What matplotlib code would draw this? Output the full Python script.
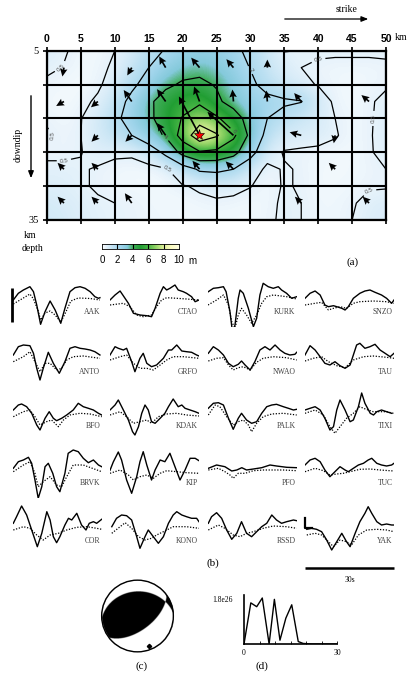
import numpy as np
import matplotlib
matplotlib.use("Agg")
import matplotlib.pyplot as plt
from matplotlib.colors import LinearSegmentedColormap

# ---------------- data ----------------
strike_km = [0, 2.5, 5, 7.5, 10, 12.5, 15, 17.5, 20, 22.5, 25, 27.5, 30, 32.5, 35, 37.5, 40, 42.5, 45, 47.5, 50]
depth_km = [5, 8, 11, 14, 17, 20, 23, 26, 29, 32, 35]
slip_m = [
    [0.7, 0.55, 0.35, 0.3, 0.5, 0.9, 1.5, 2.1, 2.6, 2.8, 2.7, 2.3, 1.7, 1.0, 0.48, 0.51, 0.6, 0.6, 0.6, 0.6, 0.6],
    [0.6, 0.48, 0.3, 0.35, 0.6, 1.2, 2.0, 2.8, 3.4, 3.6, 3.3, 2.7, 1.95, 1.2, 0.75, 0.5, 0.4, 0.35, 0.35, 0.35, 0.4],
    [0.4, 0.3, 0.25, 0.4, 0.8, 1.7, 2.6, 3.7, 4.2, 4.3, 3.9, 3.2, 2.3, 1.5, 1.0, 0.7, 0.45, 0.35, 0.3, 0.35, 0.45],
    [0.3, 0.25, 0.35, 0.6, 1.3, 2.4, 3.7, 4.7, 5.4, 5.7, 4.3, 3.4, 2.7, 2.4, 2.2, 2.05, 1.0, 0.35, 0.3, 0.45, 0.6],
    [0.45, 0.3, 0.48, 0.9, 1.6, 2.7, 3.6, 4.9, 6.1, 7.2, 6.3, 4.8, 3.3, 2.0, 1.5, 1.1, 0.8, 0.5, 0.3, 0.45, 0.65],
    [0.55, 0.4, 0.5, 0.9, 1.4, 2.0, 3.1, 4.2, 6.8, 9.2, 8.2, 6.4, 3.5, 1.5, 0.9, 0.8, 0.75, 0.55, 0.3, 0.45, 0.7],
    [0.4, 0.4, 0.48, 0.7, 0.6, 0.6, 1.0, 2.4, 4.6, 5.8, 5.6, 4.6, 2.6, 0.8, 0.45, 0.4, 0.35, 0.3, 0.3, 0.45, 0.65],
    [0.6, 0.6, 0.55, 0.45, 0.35, 0.3, 0.3, 0.4, 1.2, 2.2, 2.3, 2.0, 0.9, 0.35, 0.55, 0.45, 0.3, 0.3, 0.3, 0.4, 0.5],
    [0.7, 0.65, 0.55, 0.45, 0.35, 0.3, 0.3, 0.35, 0.45, 0.6, 0.75, 0.7, 0.52, 0.3, 0.55, 0.45, 0.3, 0.3, 0.35, 0.45, 0.45],
    [0.9, 0.8, 0.65, 0.55, 0.5, 0.45, 0.35, 0.3, 0.3, 0.35, 0.4, 0.35, 0.3, 0.35, 0.6, 0.5, 0.35, 0.35, 0.45, 0.65, 0.75],
    [1.0, 0.9, 0.7, 0.6, 0.5, 0.45, 0.4, 0.35, 0.3, 0.3, 0.3, 0.3, 0.3, 0.4, 0.6, 0.5, 0.35, 0.35, 0.5, 0.7, 0.8],
]
contour_levels = [0.5, 2, 4, 6, 8]

# slip vectors per subfault: rows = downdip (8,14,20,26,32 km), cols = along strike (2.5..47.5 km)
# arrow length (px) and direction (deg, screen, counter-clockwise from east); 0 length = no arrow
arrow_len = [
    [9, 0, 9, 13, 13, 11, 8, 0, 0, 0],
    [9, 9, 14, 15, 16, 12, 11, 11, 0, 10],
    [0, 9, 9, 15, 44, 35, 0, 12, 8, 0],
    [9, 9, 0, 0, 11, 11, 0, 0, 9, 0],
    [9, 9, 12, 0, 0, 0, 0, 9, 0, 9],
]
arrow_dir = [
    [-100, 0, -120, 120, 130, 130, 90, 0, 0, 0],
    [-150, -140, 125, 125, 110, 95, 95, 130, 0, 140],
    [0, -135, -135, 125, 118, 138, 0, 165, -100, 0],
    [135, 135, 0, 0, 130, 135, 0, 0, 135, 0],
    [135, 135, 125, 0, 0, 0, 0, 135, 0, 135],
]
hypocenter = (22.4, 20.0)

stations = [["AAK", "CTAO", "KURK", "SNZO"],
            ["ANTO", "GRFO", "NWAO", "TAU"],
            ["BFO", "KDAK", "PALK", "TIXI"],
            ["BRVK", "KIP", "PFO", "TUC"],
            ["COR", "KONO", "RSSD", "YAK"]]

observed = {
    "AAK": ([0.1, 1.8, 3.5, 5.7, 6.9, 8.0, 9.3, 10.8, 12.5, 14.2, 16.1, 17.5, 19.2, 20.9, 22.6, 24.3, 26, 27.6, 28.8, 29.3],
            [12, 18.7, 22, 25.3, 20.3, 7, -12.3, 0.3, 11, 2, -11.3, 3.7, 20.3, 24.3, 25.3, 23.7, 20.3, 15.3, 13.7, 14.3]),
    "CTAO": ([0, 1.7, 3.4, 4.7, 6.2, 7.9, 10.1, 12.4, 14, 15.2, 16.9, 18, 19.1, 20.2, 21.9, 23, 24.7, 25.8, 27.5, 28.7, 30],
             [12, 17, 21, 15.3, 8.7, -1.3, -3, -3.7, -4.7, 3.7, 18.7, 25.3, 22, 23.7, 27, 22, 20.3, 18.7, 15.3, 10.3, 12]),
    "KURK": ([0.1, 1.8, 3.5, 5.2, 6.1, 7.4, 8.3, 9.1, 10.2, 10.8, 11.9, 13.6, 15.3, 16.4, 17.5, 18.6, 20.3, 22, 23.7, 24.8, 26.5, 28.2, 29.9],
             [20.3, 23.7, 24.3, 25.3, 20.3, 0.3, -21.3, -13, 13.7, 22, 18.7, 3.7, -14.7, -6.3, 17, 28.7, 25.3, 23.7, 25.3, 22, 18.7, 13.7, 15.3]),
    "SNZO": ([0, 1.7, 3.4, 5.1, 6.7, 7.9, 9.6, 10.7, 12.4, 13.5, 14.6, 16.3, 18.5, 20.2, 21.9, 23.6, 25.8, 27.5, 29.2, 30],
             [13.7, 18.7, 21, 17, 7, 5.3, 6.3, 5.3, 3.7, 2, 5.3, 13.7, 18.7, 21, 22, 19.7, 17, 13.7, 8.7, 12]),
    "ANTO": ([0.1, 1.8, 3.5, 5.7, 6.9, 8, 9.1, 10.2, 11.9, 13.6, 15.6, 17.5, 19.2, 20.9, 22.6, 24.3, 26, 27.6, 29.3],
             [17, 25.3, 27, 26.3, 18.7, 3.7, -8, 3.7, 19.7, 8.7, -1.3, 10.3, 23.7, 25.3, 23.7, 23, 22, 20.3, 17]),
    "GRFO": ([0, 1.7, 2.8, 4.5, 5.6, 7.3, 8.4, 10.1, 11.2, 12.4, 14, 15.7, 18, 19.7, 20.8, 22.5, 24.2, 25.8, 27.5, 29.2, 30],
             [17, 25.3, 23.7, 22, 23.7, 10.3, 0.3, 13.7, 18.7, 8.7, 5.3, 7, 13.7, 22, 22, 27, 21, 20.3, 19.7, 17, 16]),
    "NWAO": ([0.1, 1.8, 3.5, 5.2, 6.9, 8.5, 10.2, 11.3, 12.5, 14.2, 15.8, 17.5, 19.2, 20.9, 22.6, 24.3, 25.9, 27.6, 29.3, 29.9],
             [18.7, 25.3, 22, 17, 8.7, 5.3, 7.7, 11, 7, 2, 10.3, 22, 25.3, 22, 27, 22, 18.7, 17, 17.7, 19.7]),
    "TAU": ([0, 1.7, 3.4, 5.1, 6.7, 8.4, 10.1, 11.8, 13.5, 15.2, 16.3, 17.4, 18.5, 20.2, 21.9, 23.6, 25.3, 27, 28.7, 30],
            [17, 26.3, 22, 15.3, 8.7, 7, 10.3, 6.3, 3.7, 7, 17, 27, 28.7, 23.7, 25.3, 27.7, 22, 18.7, 15.3, 18.7]),
    "BFO": ([0.1, 1.8, 2.9, 4.6, 6.3, 8, 9.1, 10.8, 12.2, 13.6, 14.7, 16.4, 18.1, 20.3, 22, 23.7, 25.4, 27.1, 28.8, 29.9],
            [16, 21, 22, 19.3, 12.7, 1, -4, 7.7, 14.3, 7.7, 5.3, 7.7, 11, 16, 22.7, 19.3, 17.7, 16, 12.7, 11]),
    "KDAK": ([0, 1.7, 2.8, 4.5, 6.2, 7.6, 8.4, 9.6, 10.7, 11.8, 12.9, 14, 15.2, 16.9, 18.5, 19.7, 21.3, 23, 24.2, 25.3, 27, 28.7, 30],
             [16, 21, 26, 16, 6, -5.7, -9, -0.7, 12.7, 21, 16, 4.3, 2.7, 7.7, 12.7, 19.3, 27, 19.3, 21, 17.7, 16, 14.3, 12.7]),
    "PALK": ([0.1, 1.8, 3.5, 5.2, 6.9, 8.5, 10.2, 11.3, 13, 14.7, 16.4, 18.1, 19.8, 21.5, 23.1, 25.4, 27.1, 28.8, 29.9],
             [17.7, 22.7, 23.3, 21, 7.7, -3.3, 7.7, 12.7, 6, 2.7, 4.3, 12.7, 19.3, 21, 21.7, 19.3, 17.7, 16, 16.7]),
    "TIXI": ([0, 1.7, 3.4, 5.1, 6.7, 8.4, 9.6, 10.7, 11.8, 13.5, 15.2, 16.3, 18, 19.1, 20.2, 22, 23.1, 24.2, 25.8, 27.5, 29.2],
             [16, 17.7, 19.3, 16, 7.7, -4, -0.7, 16, 26, 16, 4.3, 6, 19.3, 33, 22.7, 12.7, 11, 14.3, 16, 14.3, 12.7]),
    "BRVK": ([0.1, 1.8, 3.5, 5.2, 6.3, 7.4, 8.5, 9.7, 10.8, 11.9, 13.4, 14.7, 15.8, 17.5, 18.6, 20.3, 22, 23.7, 25.4, 27.1, 28.8, 29.9],
             [14.7, 21.3, 23, 25.7, 19.7, 3, -15.3, -3.7, 16.3, 19.7, 9.7, -3.7, -8.7, 9.7, 29.7, 33, 31.3, 24.7, 20.3, 23, 18, 16.3]),
    "KIP": ([0, 1.1, 2.8, 3.9, 5.6, 7.3, 9, 10.1, 11.2, 12.4, 14, 15.2, 16.9, 18.5, 20.2, 21.9, 23.6, 25.3, 27, 28.7, 30],
            [12.7, 21, 31, 23, 3, -10.3, 6.3, 21.3, 31.3, 18, 3, 13, 23, 21.3, 29.7, 16.3, 3, 13, 24.7, 24.7, 22.3]),
    "PFO": ([0.1, 2.9, 5.7, 8, 9.7, 11.4, 13, 15.3, 18.1, 20.9, 23.1, 26.5, 29.9],
            [14.7, 18, 16.3, 12, 13, 15.3, 13, 14, 15.3, 18, 17, 15.7, 15.3]),
    "TUC": ([0, 1.7, 3.4, 5.1, 6.7, 8.4, 10.1, 11.8, 13.5, 14.6, 16.3, 18, 19.7, 21.3, 22.5, 24.2, 25.8, 27.5, 29.2, 30],
            [18, 23, 24.7, 21.3, 13, 6.3, 11.3, 16.3, 13, 11.3, 14.7, 18, 19.7, 23, 24.7, 19.7, 18, 17, 18, 19.7]),
    "COR": ([0.1, 1.2, 2.9, 4.6, 6.3, 8.2, 9.7, 11.4, 12.5, 13.6, 14.7, 15.8, 17.5, 18.7, 19.8, 21.5, 23.1, 24.6, 25.7, 27.1, 28.2, 29.9],
            [17.7, 24.3, 35, 26, 11, -5.7, 7.7, 29.3, 21, 4.3, -1.7, 4.3, 16, 22.7, 21, 27.7, 16, 11, 17.7, 19.3, 17.7, 21.7]),
    "KONO": ([0.6, 2.2, 3.9, 5.6, 7.3, 9, 10.1, 11.8, 12.9, 14.6, 16.3, 18, 19.7, 21.3, 22.5, 24.2, 25.8, 27.5, 29.2, 30],
             [14.3, 22.7, 26, 25.3, 21, 4.3, -7.3, 4.3, 11, 4.3, -2.3, 4.3, 17.7, 26, 29.3, 26, 24.3, 22.7, 22.7, 19.3]),
    "RSSD": ([0.1, 1.2, 2.9, 4.6, 6.3, 8, 9.7, 11.3, 13, 14.7, 16.4, 18.1, 19.8, 21.5, 23.1, 24.8, 26.5, 28.8, 29.9],
             [17.7, 24.3, 28.3, 22.7, 11, 1.7, 7.7, 19.3, 7.7, 4.3, 9.3, 14.3, 17.7, 26, 21, 17.7, 19.3, 21, 20.3]),
    "YAK": ([0.6, 2.2, 3.9, 5.6, 7.3, 9, 10.7, 12.4, 14, 15.2, 16.9, 18.5, 20.2, 21.3, 22.5, 24.2, 25.8, 27.5, 29.2, 30],
            [11.7, 12.7, 11.7, 9.3, 1, -9, -0.7, 7.7, -0.7, -5.7, 7.7, 19.3, 27.7, 34.3, 27.7, 19.3, 16, 17, 16, 16]),
}

synthetic = {
    "AAK": ([0.1, 3.5, 5.7, 6.9, 8.5, 9.3, 10.8, 12.5, 14.2, 16.1, 17.5, 19.5, 22, 26, 29.3],
            [8, 14, 18, 13, 1, -8, -1, 1, -3, -10, -2, 11, 14, 13.5, 12]),
    "CTAO": ([0, 4.5, 6.7, 9, 11.2, 14, 15.7, 17.4, 19.1, 22.5, 25.8, 30],
             [7, 8.7, 5.3, -3, -4.7, -3, 5.3, 12, 14.3, 13.7, 13, 12]),
    "KURK": ([0, 2.9, 5.2, 6.9, 8, 9.1, 10.2, 11.3, 13, 14.7, 16.4, 18.1, 19.8, 22, 26.5, 29.9],
             [7, 12, 17, 7, -9.7, -16.3, -3, 3.7, -3, -11.3, -3, 8.7, 15.3, 17, 15.3, 13]),
    "SNZO": ([0, 3.4, 5.6, 7.9, 9.6, 11.8, 14, 16.3, 18.5, 23, 27.5, 30],
             [7, 8.7, 9.7, 2, 3.7, 5.3, 3.7, 8.7, 10.3, 11, 10.3, 8.7]),
    "ANTO": ([0.1, 3.5, 5.7, 7.4, 9.1, 10.8, 12.5, 14.7, 16.4, 18.1, 20.3, 23.7, 29.3],
             [10.3, 15.3, 20.3, 10.3, 0.3, 8.7, 8.7, 2, 3.7, 12, 15.3, 16, 13.7]),
    "GRFO": ([0, 3.4, 5.6, 7.9, 10.1, 12.4, 14.6, 16.9, 19.1, 21.3, 24.7, 30],
             [12, 15.3, 17, 8.7, 3.7, 3.7, 2, 7, 12, 15.3, 15.3, 13.7]),
    "NWAO": ([0.1, 2.9, 5.2, 6.9, 8.5, 10.2, 11.9, 14.2, 16.4, 18.6, 22, 26.5, 29.9],
             [11, 13.7, 14.3, 7, 2, 4.3, 5.3, 2, 9.7, 13.7, 15.3, 14.3, 12]),
    "TAU": ([0, 2.8, 5.6, 7.9, 10.7, 13.5, 16.3, 19.7, 23, 27.5, 30],
            [11, 13.7, 15.3, 10.3, 6.3, 4.3, 12, 15.3, 16, 14.7, 13.7]),
    "BFO": ([0.1, 3.5, 5.7, 7.4, 9.1, 11.3, 13, 15.3, 17, 19.2, 22.6, 26, 29.9],
            [9.3, 14.3, 16, 9.3, 1, 4.3, 6, -0.7, 6, 11, 12.7, 12, 9.3]),
    "KDAK": ([0, 3.4, 5.6, 7.9, 10.1, 12.4, 14, 16.3, 19.1, 22.5, 25.8, 30],
             [11, 14.3, 9.3, 2.7, 4.3, 6, 2.7, 9.3, 12, 12.7, 11, 10]),
    "PALK": ([0.1, 2.4, 4, 6.3, 8.5, 10.2, 11.9, 13.6, 14.7, 16.4, 18.6, 21.5, 25.4, 29.9],
             [11, 21, 19.3, 9.3, 1, 4.3, 6, 1, -5.7, 2.7, 9.3, 12, 12.7, 11]),
    "TIXI": ([0, 3.4, 6.2, 8.4, 10.1, 11.8, 14, 16.3, 18.5, 19.7, 21.3, 23, 25.3, 27.5, 29.8],
             [12.7, 16, 11, -0.7, -7.3, -0.7, 7.7, 12.7, 19.3, 17.7, 16, 14.3, 14.3, 14.3, 12.7]),
    "BRVK": ([0.1, 3.5, 5.7, 7.4, 8.5, 10.2, 12.5, 14.7, 16.4, 18.1, 20.3, 23.7, 29.9],
             [11.3, 18, 21.3, 9.7, -3.7, 1.3, 6.3, -2, -3.7, 6.3, 18, 18, 11.3]),
    "KIP": ([0, 3.4, 6.2, 7.9, 10.1, 12.4, 14.6, 16.9, 19.1, 22.5, 25.8, 30],
            [9.7, 13, 8, 3, 6.3, 8, 4.7, 9.7, 12.3, 11.3, 10.3, 9.7]),
    "PFO": ([0.1, 3.5, 5.7, 7.4, 8.5, 10.2, 12.5, 15.3, 18.6, 21.5, 25.4, 29.9],
            [13, 14.7, 11.3, 8, 4.7, 9.7, 9.7, 12.3, 13, 13, 13, 12.3]),
    "TUC": ([0, 3.4, 6.2, 8.4, 10.7, 12.9, 15.2, 18.5, 21.9, 25.3, 30],
            [11.3, 14.7, 12.3, 8, 9, 9.7, 11.3, 13.7, 14, 13, 12]),
    "COR": ([0.1, 3.5, 5.7, 8, 10.2, 12.5, 15.3, 18.1, 21.5, 24.9, 28.2, 29.9],
            [11, 14.3, 12.7, 6, 1, 6, 7.7, 11, 13.7, 14.3, 12.7, 11.7]),
    "KONO": ([0.6, 3.4, 5.1, 7.3, 9.6, 11.8, 14, 15.7, 18, 21.3, 25.8, 30],
             [7.7, 14.3, 18.3, 12.7, 4.3, 1, 2.7, 6, 9.3, 14.3, 14.3, 12.7]),
    "RSSD": ([0.1, 3.5, 5.7, 8.5, 10.8, 13, 15.3, 18.6, 22, 26.5, 29.9],
             [11, 16, 12.7, 6, 4.3, 7.7, 9.3, 12.7, 15, 14.3, 12.7]),
    "YAK": ([0.6, 3.4, 5.6, 7.9, 9.6, 11.8, 14, 15.7, 18, 20.8, 24.2, 27.5, 30],
            [6, 7.7, 6, -0.7, -5.7, 1, -0.7, -4, 6, 11, 11.7, 11, 9.3]),
}

# focal mechanism nodal planes (strike, dip) and P-axis (azimuth, radius)
nodal_planes = [(268, 32), (53, 58)]
p_axis = (159, 0.89)

# source time function: time (s), moment rate (1e26 Nm/s)
stf_time = [0, 2.2, 4.1, 5.9, 8.1, 9.8, 11.6, 13.5, 15.4, 17.5, 19.1, 22, 30]
stf_rate = [0, 1.51, 1.37, 1.69, 0.0, 1.64, 0.14, 0.95, 1.44, 0.09, 0.02, 0, 0]

# ---------------- figure ----------------
W, H = 408, 674
fig = plt.figure(figsize=(W / 100, H / 100), dpi=100)
SERIF = ["Liberation Serif", "DejaVu Serif"]
SANS = ["Liberation Sans", "DejaVu Sans"]


def add_ax(x0, y0, x1, y1):
    return fig.add_axes([x0 / W, 1 - y1 / H, (x1 - x0) / W, (y1 - y0) / H])


def ftext(px, py, s, **kw):
    fig.text(px / W, 1 - py / H, s, **kw)


slip_cmap = LinearSegmentedColormap.from_list("slip", [
    (0.00, (1.00, 1.00, 1.00)),
    (0.06, (0.88, 0.94, 0.98)),
    (0.15, (0.74, 0.88, 0.95)),
    (0.25, (0.62, 0.83, 0.92)),
    (0.33, (0.52, 0.79, 0.86)),
    (0.40, (0.25, 0.68, 0.35)),
    (0.50, (0.13, 0.62, 0.20)),
    (0.60, (0.28, 0.71, 0.27)),
    (0.70, (0.58, 0.83, 0.40)),
    (0.80, (0.87, 0.94, 0.60)),
    (0.90, (0.99, 0.99, 0.76)),
    (1.00, (1.00, 1.00, 0.88)),
])

# ---- (a) slip map ----
ax = add_ax(47, 50.7, 386, 220)
Z = np.array(slip_m)
xs = np.array(strike_km)
ds = np.array(depth_km)
ax.imshow(Z, extent=[xs[0] - 1.25, xs[-1] + 1.25, ds[-1] + 1.5, ds[0] - 1.5],
          cmap=slip_cmap, vmin=0, vmax=10, interpolation="bicubic", aspect="auto", origin="upper", zorder=0)
X, Y = np.meshgrid(xs, ds)
cs = ax.contour(X, Y, Z, levels=contour_levels, colors="k", linewidths=0.9, zorder=2)
lbl = ax.clabel(cs, levels=[0.5, 2, 4, 6], fmt={0.5: "0.5", 2: "2", 4: "4", 6: "6"}, fontsize=4.5,
                inline=True, inline_spacing=2)
for t in lbl:
    t.set_color("0.3")
    t.set_fontfamily(SANS)
for gx in range(0, 51, 5):
    ax.axvline(gx, color="k", lw=1.5, zorder=3)
for gy in range(5, 36, 6):
    ax.axhline(gy, color="k", lw=1.5, zorder=3)

L = np.array(arrow_len, dtype=float)
A = np.array(arrow_dir, dtype=float)
cx, cy = np.meshgrid(2.5 + 5 * np.arange(10), 8 + 6 * np.arange(5))
m = L > 0
ax.quiver(cx[m], cy[m], L[m], np.zeros(m.sum()), angles=A[m], scale_units="dots", scale=1,
          units="dots", width=1.7, headwidth=4.4, headlength=4.6, headaxislength=4.0, pivot="tail",
          color="k", zorder=5)
ax.plot(*hypocenter, marker="*", ms=8, mfc="red", mec="k", mew=0.4, zorder=6)

ax.set_xlim(0, 50)
ax.set_ylim(35, 5)
ax.set_xticks(range(0, 51, 5))
ax.set_yticks(range(5, 36, 6))
ax.set_yticklabels(["5", "", "", "", "", "35"], family=SERIF, fontsize=7.5)
ax.xaxis.tick_top()
ax.tick_params(axis="x", top=True, bottom=True, labeltop=True, labelbottom=False, direction="out", length=3, width=1.2, pad=2)
ax.tick_params(axis="y", left=True, direction="out", length=3, width=1.2, pad=3)
for t in ax.get_xticklabels():
    t.set_fontfamily(SANS)
    t.set_fontweight("bold")
    t.set_fontsize(7.5)
for s in ax.spines.values():
    s.set_linewidth(1.6)

ftext(401, 38, "km", family=SERIF, fontsize=7, ha="center", va="center")
ftext(30, 236, "km", family=SERIF, fontsize=7, ha="center", va="center")
ftext(32, 249, "depth", family=SERIF, fontsize=7, ha="center", va="center")
ftext(18, 145, "downdip", family=SERIF, fontsize=7, ha="center", va="center", rotation=90)
ftext(347, 9, "strike", family=SERIF, fontsize=7, ha="center", va="center")
fig.add_artist(matplotlib.patches.FancyArrowPatch((282 / W, 1 - 19 / H), (371 / W, 1 - 19 / H),
               transform=fig.transFigure, arrowstyle="-|>,head_length=4,head_width=1.6", lw=0.9, color="k"))
fig.add_artist(matplotlib.patches.FancyArrowPatch((31 / W, 1 - 93 / H), (31 / W, 1 - 181 / H),
               transform=fig.transFigure, arrowstyle="-|>,head_length=4,head_width=1.6", lw=1.0, color="k"))
ftext(353, 262, "(a)", family=SERIF, fontsize=8, ha="center", va="center")

# colorbar
cax = add_ax(102, 244, 179, 249)
grad = np.linspace(0, 10, 256)[None, :]
cax.imshow(grad, extent=[0, 10, 0, 1], cmap=slip_cmap, vmin=0, vmax=10, aspect="auto")
for v in [2, 4, 6, 8]:
    cax.axvline(v, color="k", lw=0.8)
cax.set_xlim(0, 10)
cax.set_ylim(0, 1)
cax.set_yticks([])
cax.set_xticks([0, 2, 4, 6, 8, 10])
cax.set_xticklabels(["0", "2", "4", "6", "8", "10"], family=SANS, fontsize=7)
cax.tick_params(axis="x", length=0, pad=4)
for s in cax.spines.values():
    s.set_linewidth(0.6)
ftext(192, 261, "m", family=SANS, fontsize=7, ha="center", va="center")

# ---- (b) waveforms ----
col_left = [13, 110, 208, 305]
row_base = [312, 372, 426, 483, 541]
wax = {}
for r, row in enumerate(stations):
    for c, name in enumerate(row):
        x0 = col_left[c]
        yb = row_base[r]
        wa = add_ax(x0, yb - 45, x0 + 89, yb + 15)
        wa.set_xlim(0, 30)
        wa.set_ylim(-15, 45)
        wa.axis("off")
        t_o, a_o = observed[name]
        t_s, a_s = synthetic[name]
        wa.plot(t_s, a_s, color="k", lw=0.9, ls=(0, (1, 1.3)))
        wa.plot(t_o, a_o, color="k", lw=1.0, solid_joinstyle="round")
        wa.text(29.5, 0, name, family=SERIF, fontsize=5.5, color="0.25", ha="right", va="center")
        wax[name] = wa

wa = wax["AAK"]
wa.plot([-0.4, -0.4], [24, -10], color="k", lw=2, clip_on=False, solid_capstyle="butt")
wa = wax["YAK"]
wa.plot([0, 0, 2.4], [23, 13, 13], color="k", lw=1.6, clip_on=False)
wa.plot([0, 30], [-27, -27], color="k", lw=1.8, clip_on=False, solid_capstyle="butt")
wa.text(15, -39, "30s", family=SERIF, fontsize=5.5, ha="center", va="center")
ftext(213, 563, "(b)", family=SERIF, fontsize=8, ha="center", va="center")

# ---- (c) focal mechanism ----
bax = add_ax(99.5, 578, 175.5, 654)
bax.set_aspect("equal")
g = np.linspace(-1, 1, 500)
GX, GY = np.meshgrid(g, g)
R = np.hypot(GX, GY)
az = np.arctan2(GX, GY)
theta = 2 * np.arcsin(np.clip(R / np.sqrt(2), 0, 1))
vec = np.stack([np.sin(theta) * np.cos(az), np.sin(theta) * np.sin(az), np.cos(theta)])
prod = np.ones_like(R)
for stk, dip in nodal_planes:
    s, d = np.radians(stk), np.radians(dip)
    n = np.array([-np.sin(d) * np.sin(s), np.sin(d) * np.cos(s), -np.cos(d)])
    prod = prod * np.tensordot(n, vec, axes=1)
ci = np.argmin(np.abs(g))
sign_ref = np.sign(prod[ci, ci])
black = (np.sign(prod) == sign_ref) & (R <= 1)
img = np.where(R <= 1, np.where(black, 0.0, 1.0), np.nan)
bax.imshow(img, extent=[-1, 1, -1, 1], origin="lower", cmap="gray", vmin=0, vmax=1, interpolation="bilinear")
bax.add_patch(matplotlib.patches.Circle((0, 0), 1, fill=False, lw=1.0, color="k"))
paz, pr = p_axis
bax.plot(pr * np.sin(np.radians(paz)), pr * np.cos(np.radians(paz)), marker="D", ms=2.2, color="k")
bax.set_xlim(-1.06, 1.06)
bax.set_ylim(-1.06, 1.06)
bax.axis("off")
ftext(142, 666, "(c)", family=SERIF, fontsize=8, ha="center", va="center")

# ---- (d) source time function ----
sax = add_ax(244, 595, 337, 644)
sax.plot(stf_time, stf_rate, color="k", lw=1.0)
sax.set_xlim(0, 30)
sax.set_ylim(0, 1.8)
for k in ["top", "right"]:
    sax.spines[k].set_visible(False)
for k in ["left", "bottom"]:
    sax.spines[k].set_linewidth(1.2)
sax.set_yticks([])
sax.set_xticks([0, 5, 10, 15, 20, 25, 30])
sax.tick_params(axis="x", direction="in", length=2, width=0.6, labelbottom=False)
ftext(223, 600, "1.8e26", family=SERIF, fontsize=5.5, ha="center", va="center")
ftext(244, 653, "0", family=SERIF, fontsize=5.5, ha="center", va="center")
ftext(337, 653, "30", family=SERIF, fontsize=5.5, ha="center", va="center")
ftext(262, 666, "(d)", family=SERIF, fontsize=8, ha="center", va="center")

fig.savefig("out.png", dpi=100)
